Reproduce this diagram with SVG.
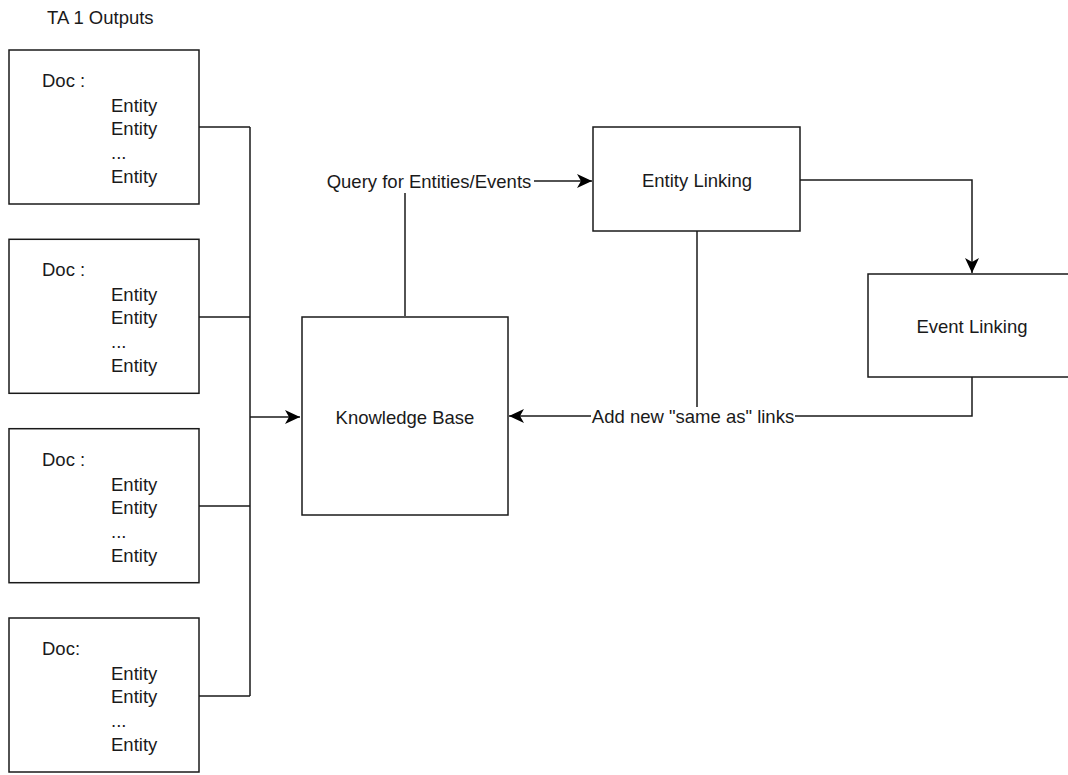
<svg xmlns="http://www.w3.org/2000/svg" width="1068" height="775" viewBox="0 0 1068 775">
<style>
.box{fill:#fff;stroke:#1a1a1a;stroke-width:1.5}
.t{font-family:"Liberation Sans",Arial,Helvetica,sans-serif;font-size:18.5px;fill:#1a1a1a}
.c{text-anchor:middle}
.ln{fill:none;stroke:#1a1a1a;stroke-width:1.5}
.lbl{fill:#fff}
</style>
<defs>
<marker id="arr" markerUnits="userSpaceOnUse" markerWidth="16" markerHeight="14" viewBox="0 0 16 14" refX="15" refY="7" orient="auto">
<path d="M0,0 L15,7 L0,14 L4,7 Z" fill="#000"/>
</marker>
</defs>
<rect width="1068" height="775" fill="#fff"/>
<text class="t" x="47" y="24">TA 1 Outputs</text>

<g id="connectors">
<path class="ln" d="M199,127 H250 M199,317 H250 M199,506 H250 M199,696 H250 M250,127 V696"/>
<path class="ln" d="M250,417 H300" marker-end="url(#arr)"/>
<path class="ln" d="M405,316 V193"/>
<path class="ln" d="M534,181 H592" marker-end="url(#arr)"/>
<path class="ln" d="M800,180 H972 V273" marker-end="url(#arr)"/>
<path class="ln" d="M697,231 V407"/>
<path class="ln" d="M972,377 V416 H795"/>
<path class="ln" d="M591,416 H509" marker-end="url(#arr)"/>
<text class="t c" x="429" y="188">Query for Entities/Events</text>
<text class="t c" x="693" y="423">Add new "same as" links</text>
</g>

<g id="doc1">
<rect class="box" x="9" y="50" width="190" height="154"/>
<text class="t" x="42" y="87">Doc :</text>
<text class="t" x="111" y="112">Entity</text>
<text class="t" x="111" y="135">Entity</text>
<text class="t" x="111" y="159">...</text>
<text class="t" x="111" y="183">Entity</text>
</g>
<g id="doc2" transform="translate(0,189.3)">
<rect class="box" x="9" y="50" width="190" height="154"/>
<text class="t" x="42" y="87">Doc :</text>
<text class="t" x="111" y="112">Entity</text>
<text class="t" x="111" y="135">Entity</text>
<text class="t" x="111" y="159">...</text>
<text class="t" x="111" y="183">Entity</text>
</g>
<g id="doc3" transform="translate(0,378.7)">
<rect class="box" x="9" y="50" width="190" height="154"/>
<text class="t" x="42" y="87">Doc :</text>
<text class="t" x="111" y="112">Entity</text>
<text class="t" x="111" y="135">Entity</text>
<text class="t" x="111" y="159">...</text>
<text class="t" x="111" y="183">Entity</text>
</g>
<g id="doc4" transform="translate(0,568)">
<rect class="box" x="9" y="50" width="190" height="154"/>
<text class="t" x="42" y="87">Doc:</text>
<text class="t" x="111" y="112">Entity</text>
<text class="t" x="111" y="135">Entity</text>
<text class="t" x="111" y="159">...</text>
<text class="t" x="111" y="183">Entity</text>
</g>

<g id="kb">
<rect class="box" x="302" y="317" width="206" height="198"/>
<text class="t c" x="405" y="424">Knowledge Base</text>
</g>
<g id="entity-linking">
<rect class="box" x="593" y="127" width="207" height="104"/>
<text class="t c" x="697" y="187">Entity Linking</text>
</g>
<g id="event-linking">
<rect class="box" x="868" y="274" width="209" height="103"/>
<text class="t c" x="972" y="333">Event Linking</text>
</g>
</svg>
